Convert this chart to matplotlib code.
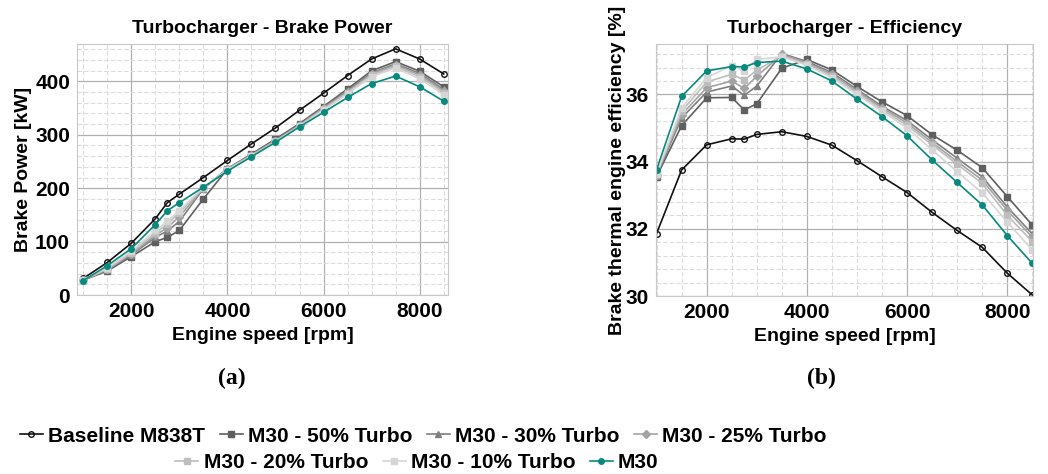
"""Turbocharger brake power and efficiency comparison."""

import matplotlib

matplotlib.use("Agg")
import matplotlib.pyplot as plt
from matplotlib.ticker import MultipleLocator

plt.rcParams["font.family"] = ["Liberation Sans", "DejaVu Sans"]
plt.rcParams["font.weight"] = "bold"

speed = [1000, 1500, 2000, 2500, 2750, 3000, 3500, 4000, 4500,
         5000, 5500, 6000, 6500, 7000, 7500, 8000, 8500]

series_names = ["Baseline M838T", "M30 - 50% Turbo", "M30 - 30% Turbo",
                "M30 - 25% Turbo", "M30 - 20% Turbo", "M30 - 10% Turbo", "M30"]

# brake power [kW]
power_baseline = [31, 61, 97, 143, 173, 189, 220, 252, 283, 313, 346, 378, 411, 442, 461, 442, 414]
power_50 = [28, 45, 72, 100, 108, 121, 180, 236, 264, 292, 321, 353, 386, 420, 437, 419, 390]
power_30 = [28, 47, 75, 108, 120, 138, 199, 237, 263, 290, 319, 351, 383, 416, 433, 415, 385]
power_25 = [28, 48, 77, 112, 126, 147, 200, 236, 262, 289, 318, 350, 381, 414, 431, 412, 382]
power_20 = [28, 49, 79, 116, 133, 154, 201, 235, 261, 288, 317, 348, 379, 412, 428, 409, 379]
power_10 = [29, 51, 82, 121, 138, 158, 202, 234, 260, 287, 316, 346, 377, 409, 425, 405, 375]
power_m30 = [27, 55, 87, 132, 158, 173, 202, 232, 259, 286, 315, 342, 370, 396, 410, 390, 363]

# brake thermal efficiency [%]
eff_baseline = [31.86, 33.75, 34.50, 34.68, 34.67, 34.81, 34.89, 34.75, 34.49,
                34.03, 33.55, 33.08, 32.49, 31.95, 31.45, 30.68, 30.03]
eff_50 = [33.55, 35.07, 35.90, 35.91, 35.54, 35.72, 36.78, 37.04, 36.73,
          36.24, 35.78, 35.37, 34.80, 34.34, 33.82, 32.96, 32.11]
eff_30 = [33.58, 35.30, 36.07, 36.25, 35.97, 36.25, 37.22, 36.98, 36.65,
          36.15, 35.65, 35.22, 34.65, 34.10, 33.55, 32.65, 31.85]
eff_25 = [33.60, 35.40, 36.20, 36.40, 36.18, 36.54, 37.19, 36.94, 36.60,
          36.10, 35.60, 35.15, 34.57, 34.00, 33.45, 32.55, 31.75]
eff_20 = [33.62, 35.50, 36.37, 36.60, 36.43, 36.72, 37.15, 36.90, 36.55,
          36.05, 35.55, 35.08, 34.50, 33.92, 33.35, 32.40, 31.62]
eff_10 = [33.64, 35.60, 36.50, 36.86, 36.70, 37.04, 37.12, 36.87, 36.50,
          36.00, 35.50, 35.00, 34.35, 33.70, 33.07, 32.20, 31.37]
eff_m30 = [33.76, 35.94, 36.70, 36.83, 36.82, 36.95, 36.99, 36.76, 36.40,
           35.86, 35.34, 34.77, 34.05, 33.38, 32.71, 31.80, 30.97]

power_all = [power_baseline, power_50, power_30, power_25, power_20, power_10, power_m30]
eff_all = [eff_baseline, eff_50, eff_30, eff_25, eff_20, eff_10, eff_m30]

colors = ["#111111", "#5f5f5f", "#7f7f7f", "#a3a3a3", "#bdbdbd", "#d6d6d6", "#078a7e"]
markers = ["o", "s", "^", "D", "s", "s", "o"]


def draw_series(ax, values_list):
    handles = []
    for name, vals, c, m in zip(series_names, values_list, colors, markers):
        face = "none" if name.startswith("Baseline") else c
        (h,) = ax.plot(speed, vals, color=c, marker=m, markersize=4,
                       markerfacecolor=face, markeredgecolor=c, lw=1.2, label=name)
        handles.append(h)
    return handles


def style_axes(ax, ymajor, yminor):
    ax.xaxis.set_major_locator(MultipleLocator(2000))
    ax.xaxis.set_minor_locator(MultipleLocator(500))
    ax.yaxis.set_major_locator(MultipleLocator(ymajor))
    ax.yaxis.set_minor_locator(MultipleLocator(yminor))
    ax.grid(which="major", color="#b0b0b0", lw=0.9)
    ax.grid(which="minor", color="#dcdcdc", lw=0.8, ls=(0, (4, 2)))
    ax.set_axisbelow(True)
    for s in ax.spines.values():
        s.set_color("#c8c8c8")
    ax.tick_params(which="both", length=0, labelsize=15, pad=5)
    for lab in ax.get_xticklabels() + ax.get_yticklabels():
        lab.set_fontweight("bold")


fig = plt.figure(figsize=(10.48, 4.74), dpi=100)
ax1 = fig.add_axes([0.0735, 0.3776, 0.354, 0.5295])
ax2 = fig.add_axes([0.626, 0.3755, 0.36, 0.5316])

handles = draw_series(ax1, power_all)
ax1.set_xlim(870, 8590)
ax1.set_ylim(0, 470)
style_axes(ax1, 100, 20)
ax1.set_title("Turbocharger - Brake Power", fontsize=14, fontweight="bold", pad=8)
ax1.set_xlabel("Engine speed [rpm]", fontsize=14, fontweight="bold", labelpad=4)
ax1.set_ylabel("Brake Power [kW]", fontsize=14, fontweight="bold", labelpad=2)

draw_series(ax2, eff_all)
ax2.set_xlim(990, 8520)
ax2.set_ylim(30, 37.5)
style_axes(ax2, 2, 0.4)
ax2.set_title("Turbocharger - Efficiency", fontsize=14, fontweight="bold", pad=8)
ax2.set_xlabel("Engine speed [rpm]", fontsize=14, fontweight="bold", labelpad=4)
ax2.set_ylabel("Brake thermal engine efficiency [%]", fontsize=14, fontweight="bold", labelpad=0)

fig.text(232 / 1048, 1 - 378 / 474, "(a)", ha="center", va="center", fontsize=17,
         fontweight="bold", family=["Liberation Serif", "DejaVu Serif"])
fig.text(821 / 1048, 1 - 378 / 474, "(b)", ha="center", va="center", fontsize=17,
         fontweight="bold", family=["Liberation Serif", "DejaVu Serif"])

leg_kw = dict(frameon=False, handlelength=1.1, handletextpad=0.25, columnspacing=0.7,
              borderaxespad=0, prop={"weight": "bold", "size": 15})
fig.legend(handles[:4], series_names[:4], loc="center", ncol=4,
           bbox_to_anchor=(0.404, 1 - 436 / 474), **leg_kw)
fig.legend(handles[4:], series_names[4:], loc="center", ncol=3,
           bbox_to_anchor=(0.398, 1 - 463 / 474), **leg_kw)

fig.savefig("out.png", dpi=100)
